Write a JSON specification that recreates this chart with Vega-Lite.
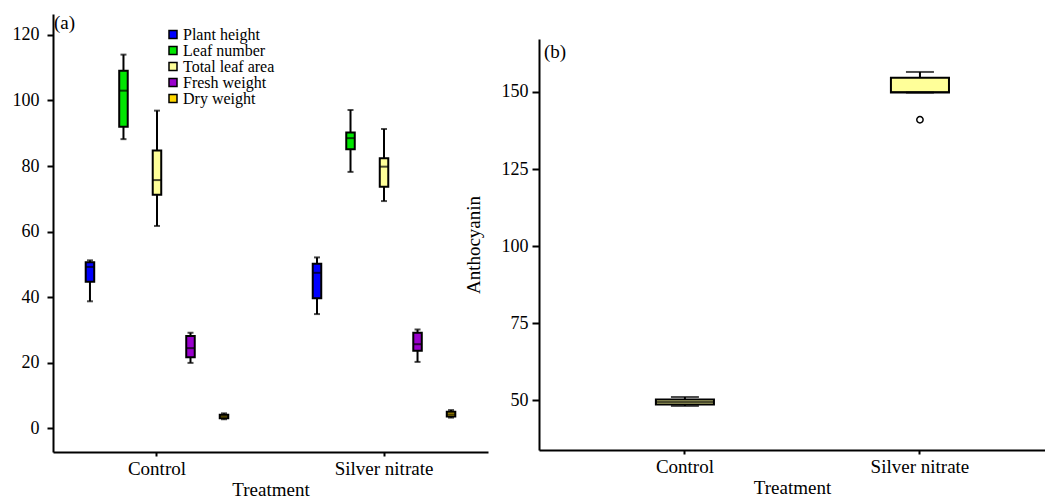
{
  "$schema": "https://vega.github.io/schema/vega-lite/v6.json",
  "padding": {"left": 12, "top": 14, "right": 0, "bottom": 0},
  "background": "white",
  "datasets": {
    "left": [
      {"Treatment": "Control", "Variable": "Plant height", "lower": 38.7, "q1": 44.7, "median": 49.2, "q3": 50.6, "upper": 51.2},
      {"Treatment": "Control", "Variable": "Leaf number", "lower": 88.2, "q1": 92.0, "median": 103.0, "q3": 109.1, "upper": 114.0},
      {"Treatment": "Control", "Variable": "Total leaf area", "lower": 61.7, "q1": 71.2, "median": 75.7, "q3": 84.7, "upper": 96.9},
      {"Treatment": "Control", "Variable": "Fresh weight", "lower": 19.9, "q1": 21.6, "median": 24.4, "q3": 28.1, "upper": 29.1},
      {"Treatment": "Control", "Variable": "Dry weight", "lower": 2.7, "q1": 3.0, "median": 3.6, "q3": 4.1, "upper": 4.5},
      {"Treatment": "Silver nitrate", "Variable": "Plant height", "lower": 34.8, "q1": 39.6, "median": 47.4, "q3": 50.2, "upper": 52.1},
      {"Treatment": "Silver nitrate", "Variable": "Leaf number", "lower": 78.2, "q1": 85.1, "median": 88.5, "q3": 90.2, "upper": 97.1},
      {"Treatment": "Silver nitrate", "Variable": "Total leaf area", "lower": 69.3, "q1": 73.7, "median": 79.8, "q3": 82.4, "upper": 91.3},
      {"Treatment": "Silver nitrate", "Variable": "Fresh weight", "lower": 20.2, "q1": 23.6, "median": 25.6, "q3": 29.1, "upper": 30.1},
      {"Treatment": "Silver nitrate", "Variable": "Dry weight", "lower": 3.2, "q1": 3.5, "median": 4.2, "q3": 5.0, "upper": 5.5}
    ],
    "right": [
      {"Treatment": "Control", "lower": 48.1, "q1": 48.6, "median": 49.4, "q3": 50.2, "upper": 51.0},
      {"Treatment": "Silver nitrate", "lower": 149.8, "q1": 149.8, "median": 150.0, "q3": 154.6, "upper": 156.5}
    ],
    "outliers": [
      {"Treatment": "Silver nitrate", "value": 141.0}
    ]
  },
  "config": {
    "view": {"stroke": null},
    "axis": {
      "domainColor": "black", "domainWidth": 2, "tickColor": "black", "tickWidth": 2,
      "labelColor": "black", "titleColor": "black", "labelFont": "Liberation Serif", "titleFont": "Liberation Serif",
      "titleFontWeight": "normal", "grid": false
    },
    "legend": {"labelFont": "Liberation Serif", "labelColor": "black"}
  },
  "spacing": -24,
  "hconcat": [
    {
      "width": 435,
      "height": 438,
      "title": {"text": "(a)", "anchor": "start", "frame": "group", "offset": -15, "dy": 19, "baseline": "alphabetic", "dx": 1, "fontSize": 19, "fontWeight": "normal", "font": "Liberation Serif", "color": "black"},
      "data": {"name": "left"},
      "encoding": {
        "x": {"field": "Treatment", "type": "nominal", "title": "Treatment",
          "scale": {"domain": ["Control", "Silver nitrate"], "paddingInner": 0.262, "paddingOuter": 0.089},
          "axis": {"labelAngle": 0, "tickSize": 4, "labelPadding": 3, "titlePadding": 2, "labelFontSize": 19, "titleFontSize": 19}},
        "xOffset": {"field": "Variable", "type": "nominal",
          "scale": {"domain": ["Plant height", "Leaf number", "Total leaf area", "Fresh weight", "Dry weight"], "paddingInner": 0.746, "paddingOuter": 0.373}}
      },
      "layer": [
        {"mark": {"type": "rule", "strokeWidth": 2, "color": "black"},
          "encoding": {
            "y": {"field": "lower", "type": "quantitative", "title": null,
              "scale": {"domain": [-7.3, 126.4], "nice": false, "zero": false},
              "axis": {"values": [0, 20, 40, 60, 80, 100, 120], "tickSize": 6, "labelPadding": 8, "labelFontSize": 18}},
            "y2": {"field": "upper"}}},
        {"mark": {"type": "bar", "stroke": "black", "strokeWidth": 2},
          "encoding": {
            "y": {"field": "q1", "type": "quantitative", "title": null},
            "y2": {"field": "q3"},
            "fill": {"field": "Variable", "type": "nominal",
              "scale": {"domain": ["Plant height", "Leaf number", "Total leaf area", "Fresh weight", "Dry weight"], "range": ["#0000FF", "#00E600", "#FFFF99", "#9900CC", "#FFD700"]},
              "legend": {"title": null, "orient": "none", "legendX": 112, "legendY": 12.5, "symbolType": "square", "symbolSize": 64, "symbolStrokeColor": "black", "symbolStrokeWidth": 1.5, "labelFontSize": 16, "rowPadding": -1.6, "labelOffset": 2, "padding": 0}}}},
        {"mark": {"type": "tick", "color": "black", "thickness": 2, "size": 9},
          "encoding": {"y": {"field": "median", "type": "quantitative", "title": null}}},
        {"mark": {"type": "tick", "color": "black", "thickness": 2, "size": 6},
          "encoding": {"y": {"field": "lower", "type": "quantitative", "title": null}}},
        {"mark": {"type": "tick", "color": "black", "thickness": 2, "size": 6},
          "encoding": {"y": {"field": "upper", "type": "quantitative", "title": null}}}
      ]
    },
    {
      "spacing": 0,
      "vconcat": [
        {"width": 1, "height": 25, "data": {"values": []}, "mark": {"type": "text"}, "encoding": {}},
        {
          "width": 506,
          "height": 411,
          "title": {"text": "(b)", "anchor": "start", "frame": "group", "offset": -19, "dy": 19, "baseline": "alphabetic", "dx": 5, "fontSize": 19, "fontWeight": "normal", "font": "Liberation Serif", "color": "black"},
          "data": {"name": "right"},
          "encoding": {
            "x": {"field": "Treatment", "type": "nominal", "title": "Treatment",
              "scale": {"domain": ["Control", "Silver nitrate"], "paddingInner": 0.753, "paddingOuter": 0.453, "align": 0.549},
              "axis": {"labelAngle": 0, "tickSize": 4, "labelPadding": 3, "titlePadding": 2, "labelFontSize": 19, "titleFontSize": 19}}
          },
          "layer": [
            {"mark": {"type": "rule", "strokeWidth": 2, "color": "black"},
              "encoding": {
                "y": {"field": "lower", "type": "quantitative", "title": "Anthocyanin",
                  "scale": {"domain": [33.8, 167.2], "nice": false, "zero": false},
                  "axis": {"values": [50, 75, 100, 125, 150], "tickSize": 7, "labelPadding": 4, "labelFontSize": 18, "titleFontSize": 19, "titlePadding": 18}},
                "y2": {"field": "upper"}}},
            {"mark": {"type": "bar", "stroke": "black", "strokeWidth": 2, "fill": "#FFFF99"},
              "encoding": {
                "y": {"field": "q1", "type": "quantitative", "title": "Anthocyanin"},
                "y2": {"field": "q3"}}},
            {"mark": {"type": "tick", "color": "black", "thickness": 2, "size": 58},
              "encoding": {"y": {"field": "median", "type": "quantitative", "title": "Anthocyanin"}}},
            {"mark": {"type": "tick", "color": "black", "thickness": 2, "size": 28},
              "encoding": {"y": {"field": "lower", "type": "quantitative", "title": "Anthocyanin"}}},
            {"mark": {"type": "tick", "color": "black", "thickness": 2, "size": 28},
              "encoding": {"y": {"field": "upper", "type": "quantitative", "title": "Anthocyanin"}}},
            {"data": {"name": "outliers"},
              "mark": {"type": "point", "shape": "circle", "filled": false, "stroke": "black", "strokeWidth": 1.5, "size": 40, "opacity": 1},
              "encoding": {"y": {"field": "value", "type": "quantitative", "title": "Anthocyanin"}}}
          ]
        }
      ]
    }
  ]
}
